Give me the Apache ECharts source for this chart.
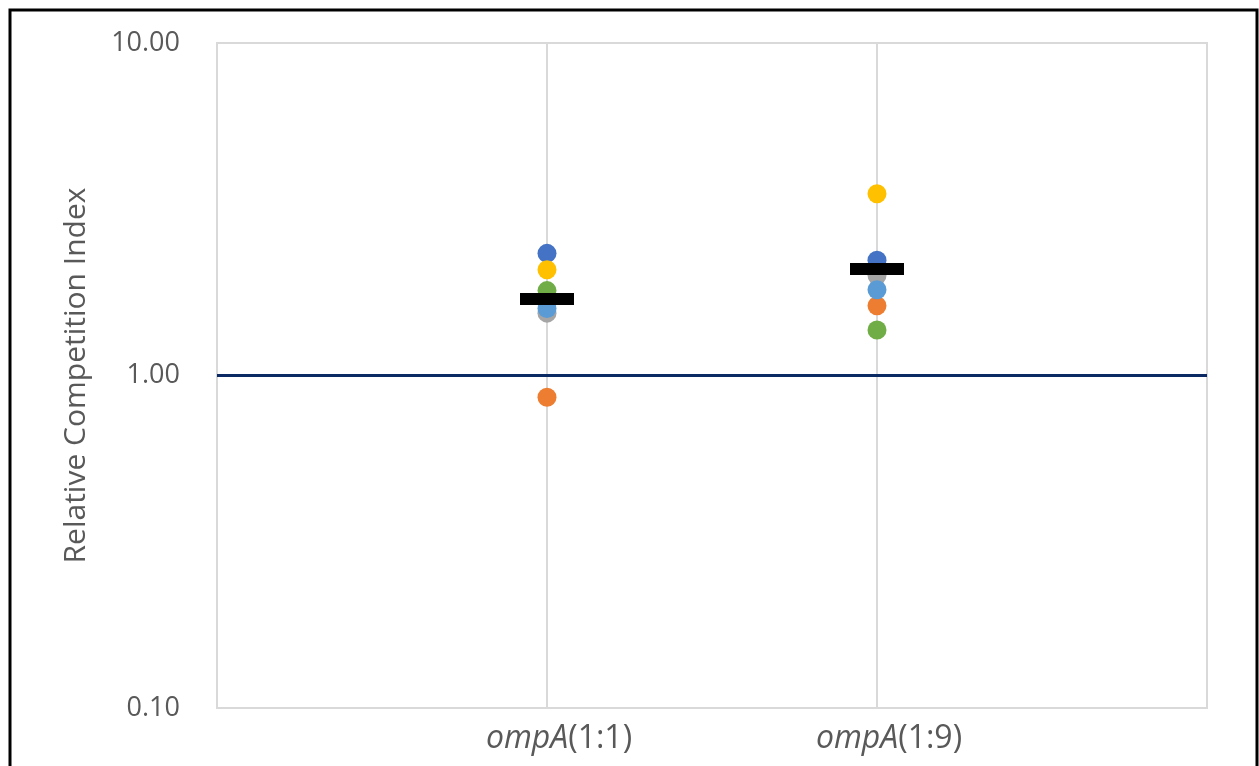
<!DOCTYPE html>
<html><head><meta charset="utf-8">
<script src="https://cdn.jsdelivr.net/npm/echarts@6/dist/echarts.min.js"></script>
<style>html,body{margin:0;padding:0;background:#fff;}#c{width:1259px;height:766px;}</style>
</head><body><div id="c"></div>
<script>
const categories = ['ompA(1:1)', 'ompA(1:9)'];
const catItalic = ['ompA', 'ompA'];
const catSuffix = ['(1:1)', '(1:9)'];
const yTicks = [0.1, 1, 10];
const rep1 = [2.33, 2.22];  // dark blue
const rep2 = [0.86, 1.62];  // orange
const rep3 = [1.54, 2.00];  // gray
const rep4 = [2.08, 3.52];  // yellow
const rep5 = [1.59, 1.81];  // light blue
const rep6 = [1.80, 1.37];  // green
const means = [1.70, 2.09];
const reference = 1;

const reps = [rep1, rep2, rep3, rep4, rep5, rep6];
const colors = ['#4472C4', '#ED7D31', '#A5A5A5', '#FFC000', '#5B9BD5', '#70AD47'];
const FONT = 'Open Sans';

const chart = echarts.init(document.getElementById('c'));
const series = reps.map((r, i) => ({
  type: 'scatter',
  symbol: 'circle',
  symbolSize: 19,
  itemStyle: { color: colors[i], opacity: 1 },
  data: r.map((v, j) => [j + 1, v]),
  z: 2 + i
}));
series.push({
  type: 'scatter',
  symbol: 'rect',
  symbolSize: [54, 12],
  itemStyle: { color: '#000', opacity: 1 },
  data: means.map((v, j) => [j + 1, v]),
  z: 20,
  markLine: {
    silent: true,
    symbol: ['none', 'none'],
    label: { show: false },
    lineStyle: { color: '#0B2A63', width: 3, type: 'solid', opacity: 1 },
    data: [{ yAxis: reference }]
  }
});

chart.setOption({
  animation: false,
  backgroundColor: '#fff',
  graphic: [{
    type: 'rect',
    shape: { x: 10, y: 10, width: 1247, height: 820 },
    style: { fill: 'none', stroke: '#000', lineWidth: 3 },
    z: 100
  }],
  grid: { left: 217, top: 43, right: 52, bottom: 58, show: true, borderColor: '#D9D9D9', borderWidth: 2, backgroundColor: 'transparent' },
  xAxis: {
    type: 'value', min: 0, max: categories.length + 1, interval: 1,
    axisLine: { show: false }, axisTick: { show: false },
    splitLine: { show: true, lineStyle: { color: '#D9D9D9', width: 2 } },
    axisLabel: {
      margin: 15,
      padding: [0, 0, 0, 24],
      formatter: function (v) {
        const i = Math.round(v) - 1;
        if (i < 0 || i >= categories.length) return '';
        return '{i|' + catItalic[i] + '}{n|' + catSuffix[i] + '}';
      },
      rich: {
        i: { fontFamily: FONT, fontStyle: 'italic', fontSize: 32, color: '#595959' },
        n: { fontFamily: FONT, fontSize: 32, color: '#595959' }
      }
    }
  },
  yAxis: {
    type: 'log', logBase: 10, min: yTicks[0], max: yTicks[yTicks.length - 1],
    axisLine: { show: false }, axisTick: { show: false },
    splitLine: { show: false },
    axisLabel: {
      margin: 37, fontFamily: FONT, fontSize: 27, color: '#595959',
      formatter: v => v.toFixed(2)
    },
    name: 'Relative Competition Index',
    nameLocation: 'middle', nameGap: 126,
    nameTextStyle: { fontFamily: FONT, fontSize: 30, color: '#595959' }
  },
  series: series
});
</script></body></html>
